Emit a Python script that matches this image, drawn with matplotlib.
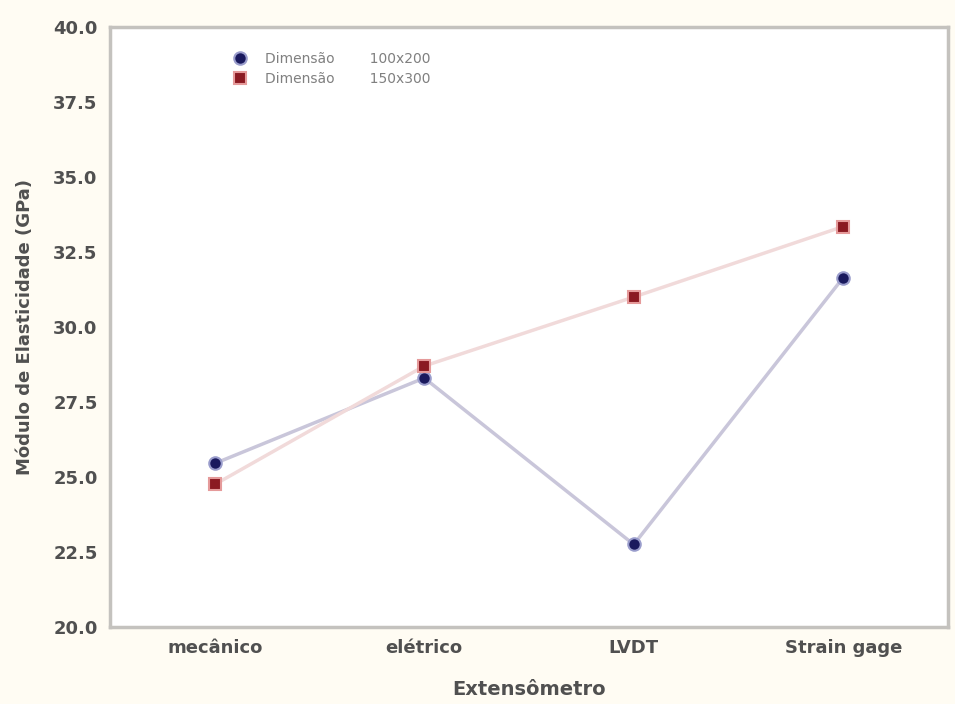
import numpy as np
import matplotlib.pyplot as plt

# data
categorias = ["mecânico", "elétrico", "LVDT", "Strain gage"]
modulo_100x200 = [25.45, 28.3, 22.75, 31.65]
modulo_150x300 = [24.75, 28.7, 31.0, 33.35]
rotulos = ["Dimensão        100x200", "Dimensão        150x300"]
yticks = [20.0, 22.5, 25.0, 27.5, 30.0, 32.5, 35.0, 37.5, 40.0]

fig = plt.figure(figsize=(9.55, 7.04), dpi=100, facecolor="#fffcf3")
ax = fig.add_axes([0.1152, 0.1094, 0.8775, 0.8522])
ax.set_facecolor("white")

x = np.arange(len(categorias))
ax.plot(x, modulo_100x200, color="#c9c6da", lw=2.5, zorder=2)
ax.plot(x, modulo_150x300, color="#f1dada", lw=2.5, zorder=2)
ax.plot(x, modulo_100x200, ls="none", marker="o", ms=9, color="#1a1a5e",
        mec="#9a9dcc", mew=1.5, zorder=3, label=rotulos[0])
ax.plot(x, modulo_150x300, ls="none", marker="s", ms=9, color="#8b1a22",
        mec="#e59a9a", mew=1.5, zorder=3, label=rotulos[1])

ax.set_xlim(-0.5, 3.5)
ax.set_ylim(20, 40)
ax.set_xticks(x)
ax.set_xticklabels(categorias)
ax.set_yticks(yticks)
ax.set_yticklabels([f"{v:.1f}" for v in yticks])
ax.tick_params(length=0, labelsize=13, labelcolor="#505050", pad=9)
for lab in ax.get_xticklabels() + ax.get_yticklabels():
    lab.set_fontweight("bold")

for s in ax.spines.values():
    s.set_color("#c4c2be")
    s.set_linewidth(2.5)

ax.set_xlabel("Extensômetro", fontsize=14, fontweight="bold", color="#505050", labelpad=16)
ax.set_ylabel("Módulo de Elasticidade (GPa)", fontsize=13, fontweight="bold", color="#505050", labelpad=14)

leg = ax.legend(loc="upper left", bbox_to_anchor=(0.13, 0.98), frameon=False,
                fontsize=10, handlelength=1.2, labelspacing=0.45, handletextpad=1.2)
for t in leg.get_texts():
    t.set_color("#808080")

fig.savefig("out.png", dpi=100, facecolor=fig.get_facecolor())
